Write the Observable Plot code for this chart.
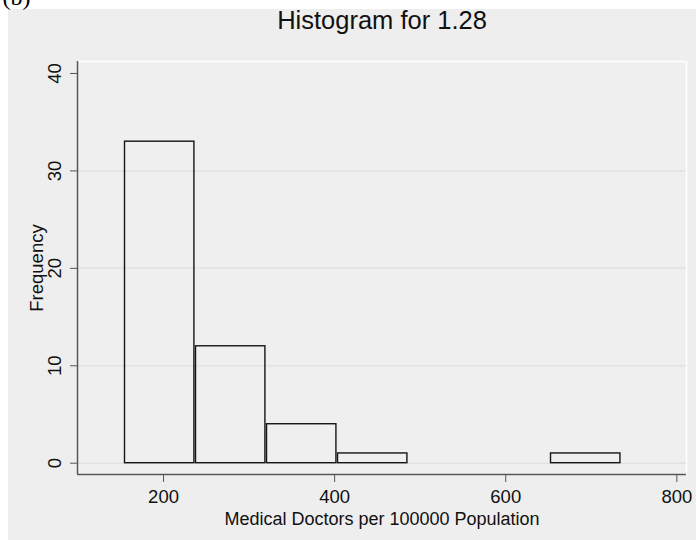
<!DOCTYPE html>
<html>
<head>
<meta charset="utf-8">
<script src="https://cdn.jsdelivr.net/npm/d3@7"></script>
<script src="https://cdn.jsdelivr.net/npm/@observablehq/plot@0.6"></script>
<style>
  html, body { margin: 0; padding: 0; background: #ffffff; }
  #wrap { position: relative; width: 696px; height: 540px; overflow: hidden; }
  #panel { position: absolute; left: 8px; top: 9px; right: 0; bottom: 0; background: #eeeeee; }
  #chart { position: absolute; left: 0; top: 0; }
  #chart svg { display: block; }
</style>
</head>
<body>
<div id="wrap">
  <div id="panel"></div>
  <div id="chart"></div>
</div>
<script>
// Histogram bins of medical doctors per 100000 population (lower/upper edges) and counts
const binLower = [154, 237, 320, 403, 486, 569, 652];
const binUpper = [237, 320, 403, 486, 569, 652, 735];
const frequency = [33, 12, 4, 1, 0, 0, 1];

// Axis ticks
const xTicks = [200, 400, 600, 800];
const yTicks = [0, 10, 20, 30, 40];
const gridTicks = [0, 10, 20, 30];

const titleText = "Histogram for 1.28";
const xTitle = "Medical Doctors per 100000 Population";
const yTitle = "Frequency";
const panelTag = "(b)";

const bins = binLower
  .map((lo, i) => ({lo, hi: binUpper[i], n: frequency[i]}))
  .filter(d => d.n > 0);

const xDomain = [99.4, 811.3];
const yDomain = [-1.16, 41.23];

const font = "'Liberation Sans', Arial, Helvetica, sans-serif";
const axisColor = "#555555";

const chart = Plot.plot({
  width: 696,
  height: 540,
  marginLeft: 77,
  marginRight: 10,
  marginTop: 61,
  marginBottom: 66,
  style: {background: "transparent", fontFamily: font, fontSize: "18px", color: "#111"},
  x: {domain: xDomain},
  y: {domain: yDomain},
  marks: [
    Plot.frame({fill: "#efefef", stroke: "#ffffff", strokeWidth: 1.5}),
    Plot.gridY(gridTicks, {stroke: "#e2e2e2", strokeOpacity: 1, strokeWidth: 1.5}),
    Plot.rect(bins, {
      x1: "lo", x2: "hi", y1: 0, y2: "n",
      fill: "none", stroke: "#151515", strokeWidth: 1.4,
      insetLeft: 0.8, insetRight: 0.8
    }),
    Plot.ruleY([yDomain[0]], {stroke: axisColor, strokeWidth: 1.5}),
    Plot.ruleX([xDomain[0]], {stroke: axisColor, strokeWidth: 1.5}),
    Plot.axisX({ticks: xTicks, tickSize: 8, tickPadding: 7, stroke: axisColor, fill: "#111", fontSize: 18.5, label: null}),
    Plot.axisY({ticks: yTicks, tickSize: 7, tickFormat: () => "", stroke: axisColor, label: null}),
    Plot.text(yTicks, {
      y: d => d, text: d => String(d), frameAnchor: "left",
      dx: -22, rotate: -90, lineAnchor: "middle", textAnchor: "middle",
      fontSize: 18.5, fill: "#111"
    }),
    Plot.text([yTitle], {
      text: d => d, frameAnchor: "left", dx: -40, rotate: -90,
      lineAnchor: "middle", textAnchor: "middle", fontSize: 18.5, fill: "#111"
    }),
    Plot.text([xTitle], {
      text: d => d, frameAnchor: "bottom", dy: 45,
      lineAnchor: "middle", textAnchor: "middle", fontSize: 18, fill: "#111"
    }),
    Plot.text([titleText], {
      text: d => d, frameAnchor: "top", dy: -41,
      lineAnchor: "middle", textAnchor: "middle", fontSize: 25.5, fill: "#111"
    }),
    Plot.text([panelTag], {
      text: d => d, frameAnchor: "top-left", dx: -75, dy: -57,
      lineAnchor: "bottom", textAnchor: "start", fontSize: 24,
      fontFamily: "'Liberation Serif', 'Times New Roman', serif", fill: "#000"
    })
  ]
});

document.getElementById("chart").appendChild(chart);
</script>
</body>
</html>
